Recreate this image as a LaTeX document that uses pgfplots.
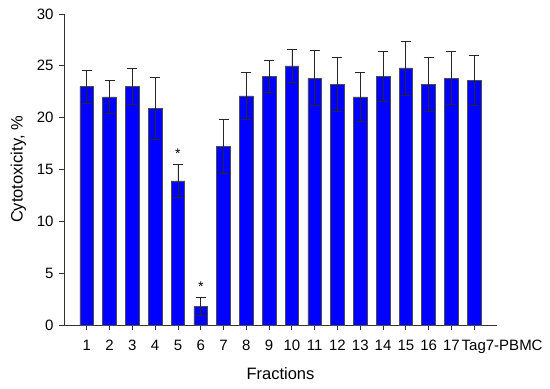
\documentclass[border=0pt]{standalone}
\usepackage{pgfplots}
\pgfplotsset{compat=1.18}
\usepackage{fontspec}
\setmainfont{Liberation Sans}
\begin{document}
\begin{tikzpicture}
\begin{axis}[
  scale only axis,
  width=433bp, height=311bp,
  xmin=0, xmax=19, ymin=0, ymax=30,
  axis x line*=bottom, axis y line*=left,
  axis line style={draw=black!80, line width=0.8pt},
  xtick={1,...,18},
  xticklabels={1,2,3,4,5,6,7,8,9,10,11,12,13,14,15,16,17,{\makebox[0pt][l]{\hspace*{-12.5bp}Tag7-PBMC}}},
  ytick={0,5,10,15,20,25,30},
  tick align=outside,
  major tick length=5bp,
  tick style={draw=black!80, line width=0.8pt},
  /pgf/number format/assume math mode=true,
  every tick label/.append style={font=\fontsize{15bp}{17bp}\selectfont},
  xticklabel style={yshift=-7bp},
  yticklabel style={xshift=-2bp},
  xlabel={Fractions},
  ylabel={Cytotoxicity, \%},
  label style={font=\fontsize{16.5bp}{19bp}\selectfont},
  xlabel style={yshift=-7bp},
  ylabel style={yshift=4bp},
  clip=false,
]
\addplot[ybar, bar width=0.6, fill={rgb,255:red,0;green,0;blue,255}, draw=black!70, line width=0.6pt,
  error bars/.cd, y dir=both, y explicit,
  error bar style={draw=black!85, line width=0.7pt},
  error mark options={rotate=90, mark size=5bp, line width=0.7pt, draw=black!85}]
coordinates {
(1,23.0) +- (0,1.6)
(2,22.0) +- (0,1.6)
(3,23.0) +- (0,1.75)
(4,20.9) +- (0,3.0)
(5,13.9) +- (0,1.6)
(6,1.8) +- (0,0.85)
(7,17.2) +- (0,2.6)
(8,22.1) +- (0,2.3)
(9,23.95) +- (0,1.55)
(10,25.0) +- (0,1.6)
(11,23.8) +- (0,2.65)
(12,23.2) +- (0,2.6)
(13,22.0) +- (0,2.4)
(14,24.0) +- (0,2.4)
(15,24.8) +- (0,2.6)
(16,23.2) +- (0,2.6)
(17,23.8) +- (0,2.55)
(18,23.6) +- (0,2.4)
};
\node[font=\fontsize{14bp}{16bp}\selectfont] at (axis cs:5,16.5) {*};
\node[font=\fontsize{14bp}{16bp}\selectfont] at (axis cs:6,3.7) {*};
\end{axis}
\path ([xshift=-64bp,yshift=-64bp]current axis.south west) rectangle ([xshift=53bp,yshift=14bp]current axis.north east);
\end{tikzpicture}
\end{document}
